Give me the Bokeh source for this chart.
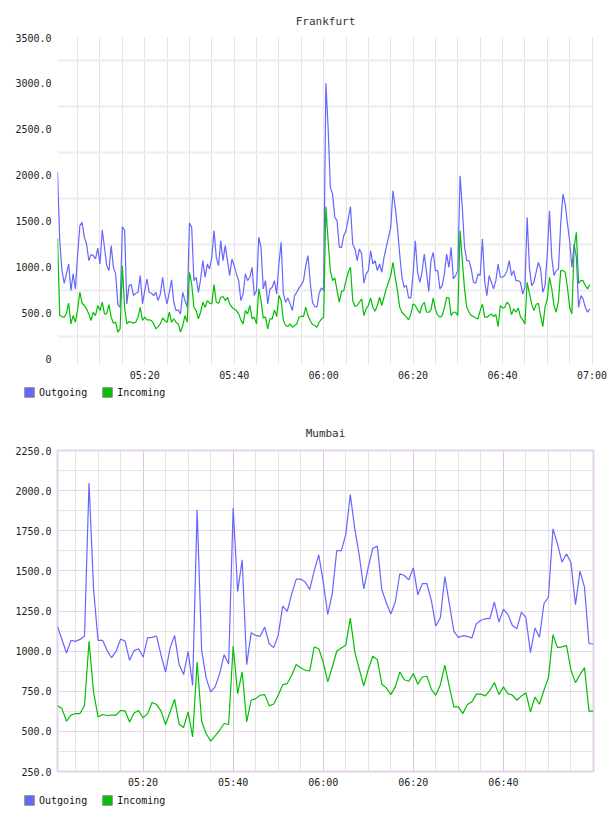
import datetime as dt
from bokeh.plotting import figure
from bokeh.models import (FixedTicker, DatetimeTickFormatter, Range1d, Legend, LegendItem,
                          ColumnDataSource, PrintfTickFormatter)
from bokeh.layouts import column
from bokeh.embed import file_html
from bokeh.resources import INLINE

FONT = "DejaVu Sans Mono"
BLUE = "#6666ff"
GREEN = "#00c000"

# ---------------- data ----------------
fra_out = [
    2038, 1288, 962, 824, 926, 1034, 745, 926, 763, 1136,
    1451, 1487, 1324, 1252, 1071, 1136, 1125, 1089, 1208, 1034,
    1404, 1216, 1016, 962, 1234, 998, 926, 592, 563, 1440,
    1400, 600, 799, 810, 690, 715, 726, 908, 600, 745,
    871, 726, 716, 690, 726, 636, 708, 890, 708, 600,
    726, 861, 618, 527, 534, 491, 726, 636, 563, 1480,
    1433, 853, 890, 726, 871, 1071, 890, 1034, 980, 1107,
    1397, 1107, 1016, 1288, 1071, 1234, 1071, 908, 1089, 1016,
    926, 853, 636, 708, 926, 853, 890, 998, 690, 745,
    1324, 1216, 763, 853, 600, 763, 781, 853, 708, 1034,
    1270, 708, 618, 665, 600, 527, 690, 726, 774, 806,
    853, 1016, 1125, 835, 618, 571, 564, 716, 774, 745,
    3002, 2520, 1868, 1795, 1542, 1506, 1216, 1216, 1343, 1397,
    1524, 1658, 1252, 1198, 1071, 1198, 1143, 824, 926, 962,
    1180, 1034, 1071, 962, 1034, 944, 1107, 1216, 1324, 1433,
    1832, 1650, 1433, 1143, 890, 781, 799, 665, 665, 926,
    1288, 944, 835, 944, 1143, 944, 734, 1071, 1161, 962,
    962, 763, 799, 926, 1143, 998, 1216, 871, 908, 962,
    1995, 1650, 1216, 1071, 1071, 980, 835, 824, 926, 908,
    1306, 853, 690, 908, 835, 763, 853, 1034, 890, 890,
    908, 962, 1071, 908, 962, 853, 853, 835, 708, 781,
    1542, 998, 799, 835, 944, 1053, 980, 726, 799, 1143,
    1614, 1107, 908, 962, 980, 1469, 1795, 1687, 1476, 1288,
    998, 1252, 1107, 563, 690, 654, 563, 509, 545,
]
fra_in = [
    1313, 473, 462, 455, 498, 607, 382, 473, 400, 545,
    727, 607, 582, 545, 491, 419, 509, 473, 582, 527,
    618, 491, 491, 592, 455, 390, 400, 292, 328, 1013,
    563, 382, 408, 400, 390, 400, 455, 563, 419, 455,
    426, 426, 419, 382, 328, 353, 382, 447, 419, 400,
    509, 400, 437, 400, 382, 292, 364, 473, 400, 944,
    817, 563, 527, 437, 509, 618, 563, 636, 607, 600,
    810, 618, 607, 672, 680, 636, 672, 600, 563, 545,
    527, 491, 426, 382, 527, 491, 582, 437, 455, 382,
    763, 636, 448, 455, 328, 437, 437, 535, 462, 690,
    636, 419, 364, 353, 382, 346, 364, 382, 455, 466,
    462, 564, 473, 419, 375, 364, 346, 400, 433, 455,
    1661, 1288, 962, 853, 882, 745, 618, 737, 745, 853,
    944, 998, 636, 571, 582, 618, 654, 473, 545, 582,
    665, 564, 520, 582, 672, 582, 672, 763, 835, 908,
    1053, 890, 745, 564, 509, 484, 455, 426, 491, 600,
    582, 535, 498, 582, 618, 509, 509, 535, 665, 535,
    480, 455, 473, 556, 672, 665, 473, 509, 509, 473,
    1397, 1071, 763, 563, 509, 473, 462, 447, 437, 527,
    600, 455, 455, 473, 491, 462, 484, 353, 582, 553,
    564, 618, 592, 484, 545, 509, 556, 462, 426, 382,
    835, 716, 600, 527, 592, 607, 473, 353, 563, 654,
    890, 763, 582, 509, 636, 962, 962, 944, 781, 563,
    491, 1216, 1379, 824, 853, 853, 799, 763, 810,
]
mum_out = [
    1154, 1071, 988, 1067, 1061, 1073, 1094, 2048, 1388, 1067,
    1067, 1005, 959, 999, 1075, 1063, 943, 1003, 1015, 963,
    1082, 1086, 1094, 974, 870, 1020, 1098, 916, 854, 999,
    787, 1880, 1005, 833, 746, 777, 860, 978, 920, 1892,
    1372, 1569, 916, 1115, 1098, 1092, 1150, 1046, 1022, 1098,
    1281, 1247, 1357, 1449, 1449, 1430, 1384, 1502, 1600, 1430,
    1229, 1357, 1627, 1625, 1726, 1975, 1762, 1596, 1388, 1523,
    1641, 1654, 1384, 1301, 1231, 1306, 1482, 1471, 1444, 1519,
    1351, 1420, 1420, 1316, 1156, 1208, 1465, 1295, 1123, 1086,
    1096, 1092, 1082, 1171, 1192, 1202, 1202, 1306, 1181, 1260,
    1229, 1160, 1140, 1243, 1208, 990, 1144, 1086, 1295, 1337,
    1762, 1668, 1554, 1606, 1550, 1289, 1498, 1399, 1046, 1046,
]
mum_in = [
    659, 642, 563, 601, 611, 611, 663, 1061, 746, 590,
    605, 599, 601, 601, 630, 628, 559, 615, 630, 584,
    611, 680, 667, 626, 543, 621, 700, 545, 524, 621,
    466, 932, 563, 487, 439, 472, 507, 549, 543, 1032,
    735, 870, 559, 694, 704, 725, 729, 659, 671, 725,
    791, 798, 850, 916, 897, 881, 876, 1026, 1015, 932,
    808, 901, 999, 1019, 1036, 1206, 995, 887, 783, 887,
    968, 947, 794, 771, 729, 777, 870, 822, 812, 860,
    794, 839, 845, 762, 725, 791, 912, 777, 653, 653,
    611, 667, 684, 732, 732, 721, 756, 804, 729, 777,
    735, 725, 694, 721, 740, 621, 713, 669, 756, 835,
    1102, 1022, 1026, 1036, 881, 804, 854, 897, 626, 626,
]
series_names = ["Outgoing", "Incoming"]
fra_yticks = [0, 500, 1000, 1500, 2000, 2500, 3000, 3500]
mum_yticks = [250, 500, 750, 1000, 1250, 1500, 1750, 2000, 2250]

DAY = dt.datetime(2024, 1, 1)
EPOCH = dt.datetime(1970, 1, 1)


def ms(t):
    return (t - EPOCH).total_seconds() * 1000.0


def at(h, m, s=0):
    return DAY.replace(hour=h, minute=m, second=s)


fra_time = [at(5, 0, 30) + dt.timedelta(seconds=30 * i) for i in range(len(fra_out))]
mum_time = [at(5, 1) + dt.timedelta(minutes=k) for k in range(len(mum_out))]

major20 = [ms(at(5, 0) + dt.timedelta(minutes=20 * j)) for j in range(1, 7)]
minor5 = [ms(at(5, 0) + dt.timedelta(minutes=5 * j)) for j in range(0, 25)]

fmt = DatetimeTickFormatter(minutes="%H:%M", hourmin="%H:%M", hours="%H:%M",
                            minsec="%H:%M", seconds="%H:%M", days="%H:%M")


def make_plot(title, src, x_start, x_end, y_start, y_end,
              border_top, border_bottom, height, title_standoff, mumbai):
    p = figure(width=608, height=height, x_axis_type="datetime",
               x_range=Range1d(ms(x_start), ms(x_end)),
               y_range=Range1d(y_start, y_end),
               output_backend="svg", toolbar_location=None,
               min_border_left=57, min_border_right=15,
               min_border_top=border_top, min_border_bottom=border_bottom)
    p.title.text = title
    p.title.align = "center"
    p.title.text_font = FONT
    p.title.text_font_size = "11px"
    p.title.text_font_style = "normal"
    p.title.text_color = "#333333"
    p.title.standoff = title_standoff

    p.line("t", "o", source=src, line_color=BLUE, line_width=1.2)
    p.line("t", "i", source=src, line_color=GREEN, line_width=1.2)

    for ax in (p.xaxis, p.yaxis):
        ax.axis_line_color = None
        ax.major_tick_line_color = None
        ax.minor_tick_line_color = None
        ax.major_tick_out = 0
        ax.major_tick_in = 0
        ax.minor_tick_out = 0
        ax.minor_tick_in = 0
        ax.major_label_text_font = FONT
        ax.major_label_text_font_size = "10px"
        ax.major_label_text_color = "#222222"
    p.xaxis.formatter = fmt
    p.xaxis.major_label_standoff = 5
    p.yaxis.major_label_standoff = 6
    p.yaxis.formatter = PrintfTickFormatter(format="%.1f")

    if not mumbai:
        p.xaxis.ticker = FixedTicker(ticks=major20)
        p.yaxis.ticker = FixedTicker(ticks=fra_yticks)
        p.yaxis.major_label_overrides = {0: "0"}
        p.xgrid.ticker = FixedTicker(ticks=minor5)
        p.xgrid.grid_line_color = "#e4e4e4"
        p.ygrid.ticker = FixedTicker(ticks=[v + 250 for v in fra_yticks[:-1]])
        p.ygrid.grid_line_color = "#ededed"
        p.ygrid.grid_line_width = 2
        p.outline_line_color = None
    else:
        p.xaxis.ticker = FixedTicker(ticks=major20[:-1], minor_ticks=minor5)
        p.yaxis.ticker = FixedTicker(ticks=mum_yticks,
                                     minor_ticks=[125 * j for j in range(2, 19)])
        p.xgrid.grid_line_color = "#dcc6dc"
        p.ygrid.grid_line_color = "#e6d6e6"
        p.xgrid.minor_grid_line_color = "#e8e2e8"
        p.ygrid.minor_grid_line_color = "#e8e2e8"
        p.outline_line_color = "#e6d2ea"
        p.outline_line_width = 2
    return p


def make_legend(src, height, y_loc):
    q = figure(width=608, height=height, x_range=Range1d(0, 1), y_range=Range1d(0, 1),
               output_backend="svg", toolbar_location=None,
               min_border=0, min_border_left=0, min_border_right=0,
               min_border_top=0, min_border_bottom=0)
    q.frame_align = False
    q.axis.visible = False
    q.grid.visible = False
    q.outline_line_color = None
    # hidden area renderers of the two series, used only for the legend swatches
    r_o = q.quad(left="t", right="t", bottom="i", top="o", source=src,
                 fill_color=BLUE, line_color="#8a8a8a", visible=False)
    r_i = q.quad(left="t", right="t", bottom="i", top="o", source=src,
                 fill_color=GREEN, line_color="#8a8a8a", visible=False)
    leg = Legend(items=[LegendItem(label=series_names[0], renderers=[r_o]),
                        LegendItem(label=series_names[1], renderers=[r_i])],
                 orientation="horizontal", location=(23, y_loc),
                 glyph_width=12, glyph_height=12, label_standoff=4, spacing=14,
                 padding=0, margin=0, border_line_color=None,
                 background_fill_alpha=0, inactive_fill_alpha=0,
                 label_text_font=FONT,
                 label_text_font_size="10px", label_text_color="#111111",
                 label_height=10)
    q.add_layout(leg)
    return q


fra_src = ColumnDataSource(dict(t=fra_time, o=fra_out, i=fra_in))
mum_src = ColumnDataSource(dict(t=mum_time, o=mum_out, i=mum_in))

p1 = make_plot("Frankfurt", fra_src, at(5, 0, 30), at(7, 0, 20), -60, 3500,
               37, 20, 384, 19, False)
l1 = make_legend(fra_src, 24, 10)
p2 = make_plot("Mumbai", mum_src, at(5, 1), at(7, 0), 250, 2250,
               42, 19, 382, 22, True)
l2 = make_legend(mum_src, 26, 10)

layout = column(p1, l1, p2, l2, spacing=0)
open("out.html", "w").write(file_html(layout, INLINE))
